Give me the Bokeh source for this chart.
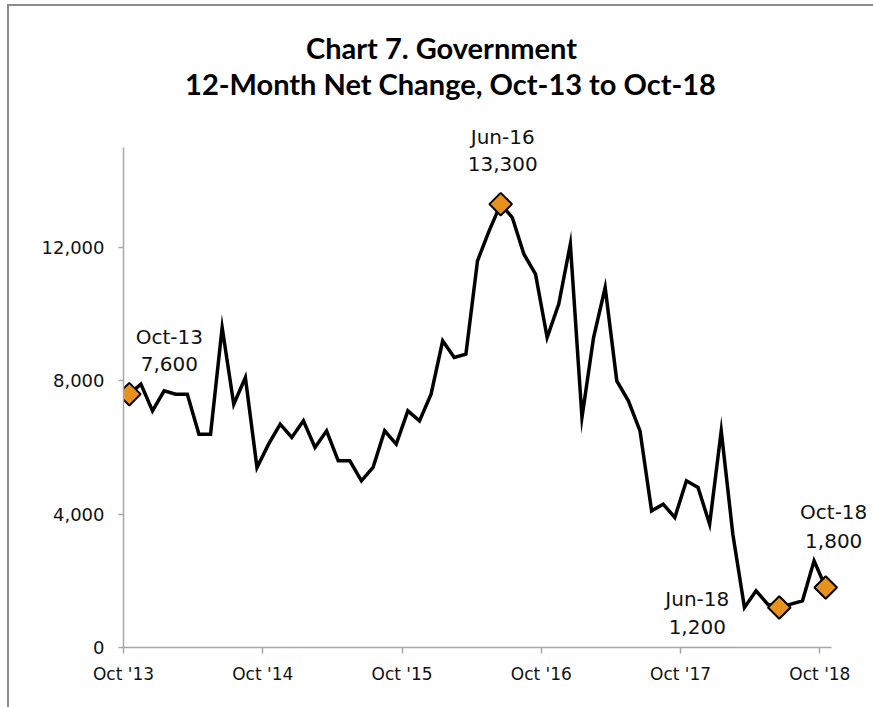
import pandas as pd
from bokeh.plotting import figure
from bokeh.models import (Range1d, FixedTicker, Label, ColumnDataSource,
                          InlineStyleSheet)
from bokeh.embed import file_html
from bokeh.resources import INLINE

# ---------------- data ----------------
months = [d.strftime("%b-%y") for d in pd.date_range("2013-10-01", periods=61, freq="MS")]
values = [7600, 7900, 7100, 7700, 7600, 7600, 6400, 6400, 9600, 7300,
          8100, 5400, 6100, 6700, 6300, 6800, 6000, 6500, 5600, 5600,
          5000, 5400, 6500, 6100, 7100, 6800, 7600, 9200, 8700, 8800,
          11600, 12500, 13300, 12900, 11800, 11200, 9300, 10300, 12100, 6900,
          9300, 10800, 8000, 7400, 6500, 4100, 4300, 3900, 5000, 4800,
          3700, 6500, 3400, 1200, 1700, 1300, 1200, 1300, 1400, 2600,
          1800]
x_ticks = [0, 12, 24, 36, 48, 60]
x_tick_labels = ["Oct '13", "Oct '14", "Oct '15", "Oct '16", "Oct '17", "Oct '18"]
y_ticks = [0, 4000, 8000, 12000]
y_tick_labels = ["0", "4,000", "8,000", "12,000"]
y_axis_max = 15000
highlight_months = ["Oct-13", "Jun-16", "Jun-18", "Oct-18"]
title_lines = ["Chart 7. Government", "12-Month Net Change, Oct-13 to Oct-18"]

# ---------------- layout (pixels) ----------------
W, H = 873, 707
LEFT, BOTTOM = 123, 60            # frame left edge / bottom margin
AXIS_TOP_PX = 147                 # pixel row where the value axis ends
X_PX_PER_CAT = 708 / len(values)  # category width in pixels
frame_h = H - BOTTOM
y_per_px = y_axis_max / (frame_h - AXIS_TOP_PX)
x_per_px = 1 / X_PX_PER_CAT

# label offsets (pixels) relative to each highlighted point: (dx, dy_top, dy_bottom)
label_offsets = {"Oct-13": (40, 57, 30), "Jun-16": (2, 67, 40),
                 "Jun-18": (-82, 9, -19), "Oct-18": (8, 76, 47)}

xs = [i + 0.5 for i in range(len(values))]
src = ColumnDataSource(dict(x=xs, y=values, m=months))

p = figure(width=W, height=H, output_backend="svg", toolbar_location=None,
           x_range=Range1d(0, (W - LEFT) * x_per_px),
           y_range=Range1d(0, frame_h * y_per_px),
           min_border_left=LEFT, min_border_right=0, min_border_top=0,
           min_border_bottom=BOTTOM, background_fill_color="white",
           border_fill_color="white")
p.outline_line_color = None
p.grid.visible = False

FONT = "DejaVu Sans"
AX_COLOR = "#a6a6a6"

# x axis
p.xaxis.ticker = FixedTicker(ticks=x_ticks)
p.xaxis.major_label_overrides = {t: l for t, l in zip(x_ticks, x_tick_labels)}
p.xaxis.bounds = (0, len(values))
p.xaxis.minor_tick_line_color = None
p.xaxis.major_tick_in = 0
p.xaxis.major_tick_out = 6
p.xaxis.major_label_standoff = 10
# y axis
p.yaxis.ticker = FixedTicker(ticks=y_ticks)
p.yaxis.major_label_overrides = {t: l for t, l in zip(y_ticks, y_tick_labels)}
p.yaxis.bounds = (0, y_axis_max)
p.yaxis.minor_tick_line_color = None
p.yaxis.major_tick_in = 0
p.yaxis.major_tick_out = 5
p.yaxis.major_label_standoff = 14
for ax in (p.xaxis, p.yaxis):
    ax.axis_line_color = AX_COLOR
    ax.axis_line_width = 1.5
    ax.major_tick_line_color = AX_COLOR
    ax.major_tick_line_width = 1.5
    ax.major_label_text_font = FONT
    ax.major_label_text_color = "#111111"
p.xaxis.major_label_text_font_size = "17px"
p.yaxis.major_label_text_font_size = "18px"

# line
p.line("x", "y", source=src, line_color="black", line_width=3.5, line_join="miter")

# highlighted markers
hi_idx = [months.index(m) for m in highlight_months]
hsrc = ColumnDataSource(dict(x=[xs[i] for i in hi_idx], y=[values[i] for i in hi_idx]))
p.scatter("x", "y", source=hsrc, marker="square", angle=0.785398, size=16,
          fill_color="#E8921E", line_color="black", line_width=2)

# point annotations
for i, m in zip(hi_idx, highlight_months):
    dx, dy1, dy2 = label_offsets[m]
    for txt, dy in ((m, dy1), (f"{values[i]:,}", dy2)):
        p.add_layout(Label(x=xs[i], y=values[i], x_offset=dx, y_offset=dy, text=txt,
                           text_align="center", text_baseline="middle",
                           text_font=FONT, text_font_size="20px", text_color="#111111"))

# chart title (two centred lines near the top of the canvas)
title_centers_px = [441, 450]
title_rows_px = [47, 83]
for txt, cx, row in zip(title_lines, title_centers_px, title_rows_px):
    p.add_layout(Label(x=(cx - LEFT) * x_per_px,
                       y=(frame_h - row) * y_per_px, text=txt,
                       text_align="center", text_baseline="middle",
                       text_font="Lato", text_font_style="bold",
                       text_font_size="29px", text_color="black"))

# partial frame border like the reference (top and left edges)
p.stylesheets = [InlineStyleSheet(css="""
:host { position: relative; }
:host::after { content: ''; position: absolute; left: 7px; top: 4px; right: 0; bottom: 0;
  border-left: 2px solid #8c8c8c; border-top: 2px solid #8c8c8c; pointer-events: none; }
""")]

open("out.html", "w").write(file_html(p, INLINE))
